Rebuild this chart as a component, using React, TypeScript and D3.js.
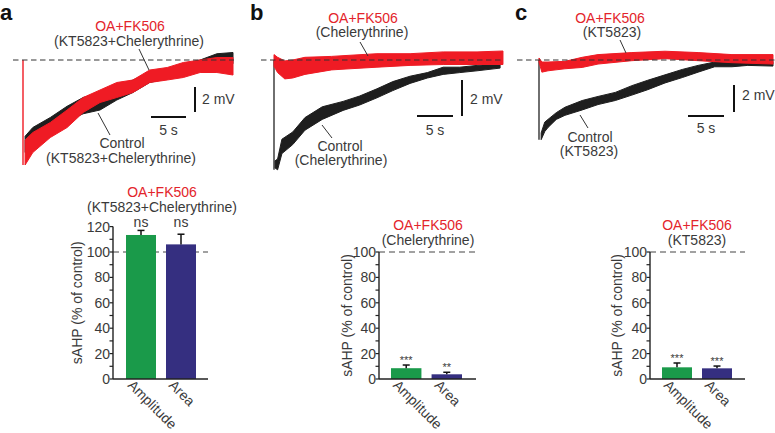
import React from "react";
import * as d3 from "d3";

const FONT = "'Liberation Sans', Arial, Helvetica, sans-serif";
const TEXT = "#3a3a3a";
const RED = "#ef1b24";
const RED_TEXT = "#e3242b";
const TRACE_BLACK = "#1e1e1e";
const GREEN = "#1a9a4a";
const BLUE = "#352f80";

// ---------- Trace data: time (s) and voltage envelope (mV, relative to baseline) ----------
// Panel a
const tA = [0.3, 1.4, 3.9, 6.3, 8.6, 11, 13.4, 15.7, 18.1, 20.6, 22.9, 25.3, 27.7, 30];
const ctrlA_lo = [-7.4, -6.8, -5.8, -4.9, -4.3, -4.0, -3.2, -2.6, -1.8, -1.5, -1.2, -0.8, -0.4, -0.3];
const ctrlA_hi = [-6.1, -5.4, -4.6, -3.7, -3.0, -2.6, -2.2, -1.6, -1.0, -0.8, -0.4, 0.0, 0.5, 0.6];
const drugA_lo = [-8.4, -7.4, -6.2, -5.4, -4.2, -3.4, -3.0, -2.6, -1.8, -1.6, -1.4, -1.0, -1.0, -1.2];
const drugA_hi = [-6.4, -5.8, -5.0, -4.0, -3.0, -2.4, -1.8, -1.6, -0.8, -0.6, -0.2, 0.0, 0.2, 0.2];

// Panel b
const tB_ctrl = [0.15, 0.5, 1.1, 2.6, 4.3, 6.7, 9.6, 11.9, 14.3, 16.5, 18.9, 21.3, 23.5, 25.8, 28.2, 31.4];
const ctrlB_lo = [-6.0, -6.1, -5.2, -4.7, -3.9, -3.3, -2.8, -2.5, -2.1, -1.7, -1.3, -1.0, -0.8, -0.7, -0.6, -0.45];
const ctrlB_hi = [-5.6, -5.5, -4.4, -4.0, -3.2, -2.6, -2.3, -2.0, -1.6, -1.2, -0.9, -0.7, -0.4, -0.4, -0.3, -0.2];
const tB_drug = [0, 0.5, 1.5, 2.6, 4.3, 8, 10, 14.3, 18.9, 23.5, 28.2, 31.8];
const drugB_lo = [-0.35, -0.7, -1.05, -1.0, -0.8, -0.55, -0.5, -0.4, -0.3, -0.25, -0.25, -0.25];
const drugB_hi = [0.3, 0.15, -0.05, 0.0, 0.15, 0.2, 0.25, 0.35, 0.35, 0.45, 0.45, 0.5];

// Panel c
const tC_ctrl = [0.3, 0.8, 1.25, 2.4, 3.6, 6, 8.2, 10.6, 12.9, 15.1, 17.5, 19.9, 22.1, 24.4, 26.8, 29, 32.5];
const ctrlC_lo = [-5.9, -5.3, -5.0, -4.4, -4.1, -3.7, -3.3, -3.0, -2.6, -2.2, -1.7, -1.3, -0.9, -0.5, -0.5, -0.4, -0.45];
const ctrlC_hi = [-5.4, -4.6, -4.4, -3.9, -3.5, -3.0, -2.7, -2.4, -1.9, -1.5, -1.1, -0.7, -0.4, -0.15, 0.0, 0.0, -0.1];
const tC_drug = [0, 0.4, 1.25, 3.6, 6, 8.2, 12.9, 17.5, 22.1, 26.8, 32.5];
const drugC_lo = [-0.15, -0.9, -0.8, -0.65, -0.55, -0.3, -0.05, 0.1, -0.05, -0.2, -0.3];
const drugC_hi = [0.15, -0.15, -0.15, -0.1, 0.2, 0.4, 0.55, 0.65, 0.55, 0.4, 0.4];

// Scale bar values
const scaleBarSeconds = 5;
const scaleBarMV = 2;

// Trace labels
const drugName = "OA+FK506";
const controlName = "Control";
const inhibitorsA = "(KT5823+Chelerythrine)";
const inhibitorsB = "(Chelerythrine)";
const inhibitorsC = "(KT5823)";

// ---------- Bar data ----------
const categories = ["Amplitude", "Area"];
const barA_mean = [113.4, 106];
const barA_err = [3.6, 8];
const barA_sig = ["ns", "ns"];
const barB_mean = [8.5, 3.7];
const barB_err = [2.5, 1.6];
const barB_sig = ["***", "**"];
const barC_mean = [9.2, 8.4];
const barC_err = [3.4, 1.8];
const barC_sig = ["***", "***"];
const yAxisTitle = "sAHP (% of control)";

type Trace = { t: number[]; lo: number[]; hi: number[]; color: string };

function TracePanel(props: {
  x0: number; pxPerS: number; y0: number; pxPerMV: number;
  dash: [number, number];
  traces: Trace[];
  vline: { color: string; trace: Trace };
  sbV: { x: number; y: number }; sbH: { x: number; y: number };
  mvLabel: { x: number; y: number }; sLabel: { y: number };
  labels: { text: string; x: number; y: number; color: string }[];
  pointers: [number, number, number, number][];
}) {
  const { x0, pxPerS, y0, pxPerMV } = props;
  const x = d3.scaleLinear().domain([0, 1]).range([x0, x0 + pxPerS]);
  const y = d3.scaleLinear().domain([0, 1]).range([y0, y0 - pxPerMV]);
  const area = (tr: Trace) =>
    d3.area<number>()
      .x((_, i) => x(tr.t[i]))
      .y0((_, i) => y(tr.lo[i]))
      .y1((_, i) => y(tr.hi[i]))
      .curve(d3.curveLinear)(tr.t) || "";
  const vmin = d3.min(props.vline.trace.lo) as number;
  const sbLenX = x(scaleBarSeconds) - x(0);
  const sbLenY = y(0) - y(scaleBarMV);
  return (
    <g>
      <line x1={x(0)} x2={x(0)} y1={y(0)} y2={y(vmin)} stroke={props.vline.color} strokeWidth={1.4} />
      {props.traces.map((tr, i) => (
        <path key={i} d={area(tr)} fill={tr.color} stroke={tr.color} strokeWidth={1} strokeLinejoin="round" />
      ))}
      <line x1={props.dash[0]} x2={props.dash[1]} y1={y(0)} y2={y(0)} stroke="#333" strokeWidth={1} strokeDasharray="5.5,3.5" />
      <line x1={props.sbV.x} x2={props.sbV.x} y1={props.sbV.y} y2={props.sbV.y + sbLenY} stroke="#111" strokeWidth={2} />
      <line x1={props.sbH.x} x2={props.sbH.x + sbLenX} y1={props.sbH.y} y2={props.sbH.y} stroke="#111" strokeWidth={2} />
      <text x={props.mvLabel.x} y={props.mvLabel.y} fontSize={14} fill={TEXT}>{`${scaleBarMV} mV`}</text>
      <text x={props.sbH.x + sbLenX / 2} y={props.sLabel.y} fontSize={14} fill={TEXT} textAnchor="middle">{`${scaleBarSeconds} s`}</text>
      {props.labels.map((l, i) => (
        <text key={i} x={l.x} y={l.y} fontSize={14} fill={l.color} textAnchor="middle">{l.text}</text>
      ))}
      {props.pointers.map((p, i) => (
        <line key={i} x1={p[0]} y1={p[1]} x2={p[2]} y2={p[3]} stroke="#333" strokeWidth={1} />
      ))}
    </g>
  );
}

function BarPanel(props: {
  axisX: number; axisEnd: number; barRange: [number, number]; yMax: number; yTop: number;
  means: number[]; errs: number[]; sig: string[]; sigFont: number; sigCommon: boolean;
  titleX: number; titleY: number; subtitle: string; yTitleX: number;
}) {
  const y0 = 379;
  const y = d3.scaleLinear().domain([0, props.yMax]).range([y0, props.yTop]);
  const xb = d3.scaleBand<string>().domain(categories).range(props.barRange).paddingInner(0.25).paddingOuter(0);
  const ticks = y.ticks(props.yMax / 10);
  const bw = xb.bandwidth();
  const colors = [GREEN, BLUE];
  const labelDx = [-14, -13];
  const maxTop = d3.max(props.means.map((m, i) => m + props.errs[i])) as number;
  return (
    <g>
      <line x1={props.axisX} x2={props.axisEnd} y1={y(100)} y2={y(100)} stroke="#444" strokeWidth={1.2} strokeDasharray="6,4" />
      {categories.map((c, i) => {
        const cx = (xb(c) as number) + bw / 2;
        const top = y(props.means[i] + props.errs[i]);
        const sy = props.sigCommon ? y(maxTop) - 3 : top - 1;
        return (
          <g key={c}>
            <rect x={xb(c)} y={y(props.means[i])} width={bw} height={y0 - y(props.means[i])} fill={colors[i]} />
            <line x1={cx} x2={cx} y1={y(props.means[i])} y2={top} stroke="#111" strokeWidth={1.5} />
            <line x1={cx - 3.5} x2={cx + 3.5} y1={top} y2={top} stroke="#111" strokeWidth={1.5} />
            <text x={cx} y={sy} fontSize={props.sigFont} fill={TEXT} textAnchor="middle">{props.sig[i]}</text>
            <text transform={`translate(${cx + labelDx[i]},${386}) rotate(45)`} fontSize={14} fill={TEXT}>{c}</text>
          </g>
        );
      })}
      <line x1={props.axisX} x2={props.axisX} y1={y0} y2={y(props.yMax)} stroke="#222" strokeWidth={1.4} />
      <line x1={props.axisX} x2={props.axisEnd} y1={y0} y2={y0} stroke="#222" strokeWidth={1.4} />
      {ticks.map((v) => (
        <g key={v}>
          <line x1={props.axisX - 3.5} x2={props.axisX} y1={y(v)} y2={y(v)} stroke="#222" strokeWidth={1.2} />
          {v % 20 === 0 && (
            <text x={props.axisX - 3} y={y(v) + 5} fontSize={14} fill={TEXT} textAnchor="end">{v}</text>
          )}
        </g>
      ))}
      <text transform={`translate(${props.yTitleX},${(y0 + y(props.yMax)) / 2}) rotate(-90)`} fontSize={14} fill={TEXT} textAnchor="middle">{yAxisTitle}</text>
      <text x={props.titleX} y={props.titleY} fontSize={14} fill={RED_TEXT} textAnchor="middle">{drugName}</text>
      <text x={props.titleX} y={props.titleY + 15} fontSize={14} fill={TEXT} textAnchor="middle">{props.subtitle}</text>
    </g>
  );
}

export default function App() {
  const trA: Trace[] = [
    { t: tA, lo: ctrlA_lo, hi: ctrlA_hi, color: TRACE_BLACK },
    { t: tA, lo: drugA_lo, hi: drugA_hi, color: RED },
  ];
  const trB: Trace[] = [
    { t: tB_ctrl, lo: ctrlB_lo, hi: ctrlB_hi, color: TRACE_BLACK },
    { t: tB_drug, lo: drugB_lo, hi: drugB_hi, color: RED },
  ];
  const trC: Trace[] = [
    { t: tC_ctrl, lo: ctrlC_lo, hi: ctrlC_hi, color: TRACE_BLACK },
    { t: tC_drug, lo: drugC_lo, hi: drugC_hi, color: RED },
  ];
  return (
    <div style={{ position: "absolute", left: 0, top: 0, width: 775, height: 433, background: "#fff" }}>
      <svg width={775} height={433} style={{ display: "block", fontFamily: FONT }}>
        <rect width={775} height={433} fill="#fff" />
        <text x={0} y={20} fontSize={22} fontWeight="bold" fill="#111">a</text>
        <text x={250} y={20} fontSize={22} fontWeight="bold" fill="#111">b</text>
        <text x={515} y={20} fontSize={22} fontWeight="bold" fill="#111">c</text>

        <TracePanel
          x0={23} pxPerS={7} y0={60} pxPerMV={12.5} dash={[13, 234]}
          traces={trA} vline={{ color: RED, trace: trA[1] }}
          sbV={{ x: 195, y: 87 }} sbH={{ x: 151, y: 117 }}
          mvLabel={{ x: 202, y: 104 }} sLabel={{ y: 135 }}
          labels={[
            { text: drugName, x: 130, y: 31, color: RED_TEXT },
            { text: inhibitorsA, x: 129, y: 46, color: TEXT },
            { text: controlName, x: 122, y: 148, color: TEXT },
            { text: inhibitorsA, x: 121, y: 163, color: TEXT },
          ]}
          pointers={[[139, 49, 149, 70], [98, 113, 110, 135]]}
        />
        <TracePanel
          x0={274} pxPerS={7.2} y0={60} pxPerMV={18} dash={[261, 504]}
          traces={trB} vline={{ color: "#333", trace: trB[0] }}
          sbV={{ x: 462, y: 80 }} sbH={{ x: 417, y: 116 }}
          mvLabel={{ x: 470, y: 104 }} sLabel={{ y: 135 }}
          labels={[
            { text: drugName, x: 363, y: 23, color: RED_TEXT },
            { text: inhibitorsB, x: 362, y: 37, color: TEXT },
            { text: controlName, x: 340, y: 151, color: TEXT },
            { text: inhibitorsB, x: 341, y: 165, color: TEXT },
          ]}
          pointers={[[360, 42, 368, 56], [322, 125, 332, 138]]}
        />
        <TracePanel
          x0={539} pxPerS={7.2} y0={60} pxPerMV={13.5} dash={[517, 775]}
          traces={trC} vline={{ color: "#333", trace: trC[0] }}
          sbV={{ x: 734, y: 85 }} sbH={{ x: 688, y: 116 }}
          mvLabel={{ x: 742, y: 100 }} sLabel={{ y: 133 }}
          labels={[
            { text: drugName, x: 610, y: 23, color: RED_TEXT },
            { text: inhibitorsC, x: 612, y: 37, color: TEXT },
            { text: controlName, x: 590, y: 142, color: TEXT },
            { text: inhibitorsC, x: 589, y: 156, color: TEXT },
          ]}
          pointers={[[620, 40, 626, 53], [580, 115, 588, 128]]}
        />

        <BarPanel axisX={113} axisEnd={208} barRange={[126, 196]} yMax={120} yTop={226.6}
          means={barA_mean} errs={barA_err} sig={barA_sig} sigFont={14} sigCommon={true}
          titleX={162} titleY={197} subtitle={inhibitorsA} yTitleX={82} />
        <BarPanel axisX={379} axisEnd={476} barRange={[391, 462]} yMax={100} yTop={252}
          means={barB_mean} errs={barB_err} sig={barB_sig} sigFont={11} sigCommon={false}
          titleX={428} titleY={230} subtitle={inhibitorsB} yTitleX={352} />
        <BarPanel axisX={650} axisEnd={745} barRange={[662, 732]} yMax={100} yTop={252}
          means={barC_mean} errs={barC_err} sig={barC_sig} sigFont={11} sigCommon={false}
          titleX={697} titleY={230} subtitle={inhibitorsC} yTitleX={622} />
      </svg>
    </div>
  );
}
